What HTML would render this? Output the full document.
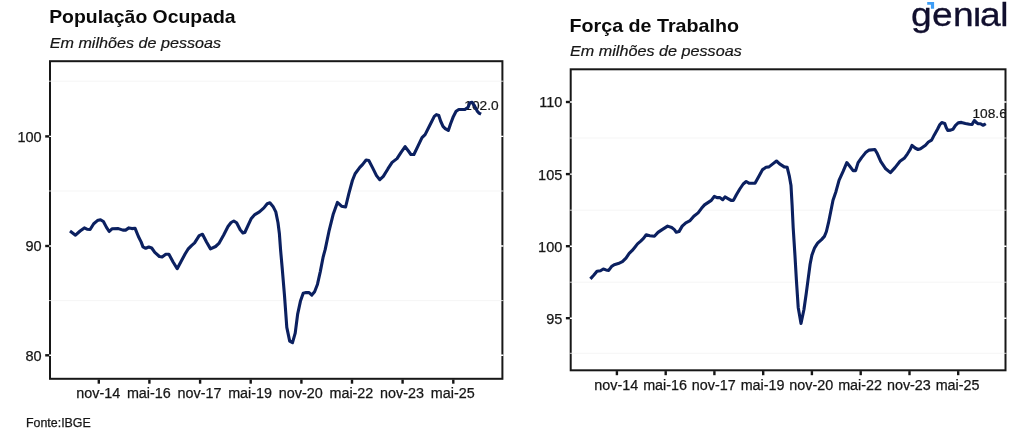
<!DOCTYPE html>
<html lang="pt-BR">
<head>
<meta charset="utf-8">
<title>População Ocupada e Força de Trabalho</title>
<style>
html,body{margin:0;padding:0;background:#fff;}
body{width:1024px;height:439px;overflow:hidden;font-family:"Liberation Sans",Arial,sans-serif;}
svg{display:block;}
svg text{font-family:"Liberation Sans",Arial,sans-serif;}
.ttl{font-weight:bold;font-size:18.5px;fill:#0a0a0a;}
.sub{font-style:italic;font-size:15.5px;fill:#161616;stroke:#161616;stroke-width:0.2px;}
.ax{font-size:14.5px;fill:#161616;stroke:#161616;stroke-width:0.25px;}
.axx{font-size:14.35px;}
.lab{font-size:13.7px;fill:#161616;stroke:#161616;stroke-width:0.2px;}
.src{font-size:12.4px;fill:#161616;stroke:#161616;stroke-width:0.25px;}
.logo{font-size:32.3px;fill:#110f2e;stroke:#110f2e;stroke-width:0.3px;}
</style>
</head>
<body>
<svg width="1024" height="439" viewBox="0 0 1024 439">
<rect width="1024" height="439" fill="#fff"/>
<text x="49.2" y="22.8" class="ttl" textLength="186.4" lengthAdjust="spacingAndGlyphs">População Ocupada</text>
<text x="49.7" y="47.8" class="sub" textLength="171.4" lengthAdjust="spacingAndGlyphs">Em milhões de pessoas</text>
<clipPath id="cl"><rect x="50.0" y="61.2" width="452.4" height="317.6"/></clipPath>
<rect x="50.0" y="61.2" width="452.4" height="317.6" fill="#fff" stroke="#171717" stroke-width="2.0"/>
<line x1="49.0" x2="503.4" y1="81.2" y2="81.2" stroke="#f3f3f3" stroke-width="0.8"/>
<line x1="49.0" x2="503.4" y1="191.0" y2="191.0" stroke="#f3f3f3" stroke-width="0.8"/>
<line x1="49.0" x2="503.4" y1="300.6" y2="300.6" stroke="#f3f3f3" stroke-width="0.8"/>
<line x1="49.0" x2="503.4" y1="136.4" y2="136.4" stroke="#fff" stroke-width="1.4"/>
<line x1="49.0" x2="503.4" y1="246.0" y2="246.0" stroke="#fff" stroke-width="1.4"/>
<line x1="49.0" x2="503.4" y1="355.3" y2="355.3" stroke="#fff" stroke-width="1.4"/>
<line x1="45.2" x2="49.2" y1="136.4" y2="136.4" stroke="#151515" stroke-width="2.4"/>
<text x="41.6" y="141.8" text-anchor="end" class="ax">100</text>
<line x1="45.2" x2="49.2" y1="246.0" y2="246.0" stroke="#151515" stroke-width="2.4"/>
<text x="41.6" y="251.4" text-anchor="end" class="ax">90</text>
<line x1="45.2" x2="49.2" y1="355.3" y2="355.3" stroke="#151515" stroke-width="2.4"/>
<text x="41.6" y="360.7" text-anchor="end" class="ax">80</text>
<line x1="98.8" x2="98.8" y1="379.6" y2="383.7" stroke="#151515" stroke-width="2.4"/>
<text x="98.2" y="398.3" text-anchor="middle" class="ax axx">nov-14</text>
<line x1="149.4" x2="149.4" y1="379.6" y2="383.7" stroke="#151515" stroke-width="2.4"/>
<text x="148.8" y="398.3" text-anchor="middle" class="ax axx">mai-16</text>
<line x1="200.1" x2="200.1" y1="379.6" y2="383.7" stroke="#151515" stroke-width="2.4"/>
<text x="199.5" y="398.3" text-anchor="middle" class="ax axx">nov-17</text>
<line x1="250.7" x2="250.7" y1="379.6" y2="383.7" stroke="#151515" stroke-width="2.4"/>
<text x="250.1" y="398.3" text-anchor="middle" class="ax axx">mai-19</text>
<line x1="301.4" x2="301.4" y1="379.6" y2="383.7" stroke="#151515" stroke-width="2.4"/>
<text x="300.8" y="398.3" text-anchor="middle" class="ax axx">nov-20</text>
<line x1="352.0" x2="352.0" y1="379.6" y2="383.7" stroke="#151515" stroke-width="2.4"/>
<text x="351.4" y="398.3" text-anchor="middle" class="ax axx">mai-22</text>
<line x1="402.6" x2="402.6" y1="379.6" y2="383.7" stroke="#151515" stroke-width="2.4"/>
<text x="402.0" y="398.3" text-anchor="middle" class="ax axx">nov-23</text>
<line x1="453.3" x2="453.3" y1="379.6" y2="383.7" stroke="#151515" stroke-width="2.4"/>
<text x="452.7" y="398.3" text-anchor="middle" class="ax axx">mai-25</text>
<g clip-path="url(#cl)"><text x="464.3" y="109.9" class="lab">102.0</text>
<path d="M70.0,231.0 L75.5,235.2 L80.1,231.0 L84.3,227.9 L87.0,229.2 L90.1,229.5 L93.7,223.7 L97.4,220.6 L100.5,219.7 L103.4,221.5 L106.5,227.4 L109.2,231.5 L112.0,228.8 L118.4,228.6 L122.9,230.1 L125.6,230.1 L128.9,227.9 L132.0,228.6 L135.1,228.3 L138.4,236.5 L141.1,241.9 L143.0,246.9 L145.7,248.3 L148.8,247.0 L151.7,248.0 L154.8,252.3 L159.4,256.5 L162.1,256.9 L165.8,254.2 L168.9,254.2 L173.1,262.0 L177.2,268.7 L181.3,261.1 L185.2,253.8 L188.0,249.2 L191.5,245.6 L194.6,242.9 L199.2,235.6 L202.5,234.3 L206.5,242.0 L210.5,248.9 L215.6,246.5 L218.9,243.4 L223.8,234.7 L228.0,226.5 L231.1,222.5 L233.8,221.0 L236.6,222.8 L240.2,229.8 L242.9,232.9 L244.8,232.5 L248.4,224.6 L251.1,218.8 L254.8,214.6 L259.4,211.9 L263.9,207.9 L267.2,203.7 L269.9,202.8 L273.0,206.4 L275.8,211.9 L278.0,222.8 L279.4,233.8 L280.6,250.2 L282.2,268.2 L284.5,295.6 L286.8,327.4 L289.7,341.1 L292.5,342.7 L295.2,333.1 L297.7,313.8 L300.4,301.3 L303.2,293.3 L306.1,292.6 L309.1,292.6 L311.8,295.1 L314.6,291.7 L317.5,284.2 L320.3,271.6 L323.2,256.8 L325.2,249.4 L329.2,230.3 L333.3,213.9 L337.4,202.4 L341.5,206.2 L345.6,207.0 L348.9,193.4 L352.4,180.5 L355.1,173.7 L359.8,167.4 L362.5,164.6 L366.1,160.0 L368.8,160.5 L372.4,167.4 L376.5,175.6 L379.8,179.7 L383.3,176.4 L388.0,168.7 L392.1,162.4 L397.0,158.6 L400.9,152.6 L405.1,146.6 L408.4,151.0 L410.9,154.5 L413.9,154.5 L417.7,146.6 L422.0,137.7 L425.1,134.6 L429.7,125.5 L434.3,116.4 L436.4,114.6 L438.8,115.5 L440.6,121.0 L443.0,126.4 L445.2,128.6 L448.3,130.4 L450.6,123.7 L453.4,116.4 L456.1,111.3 L458.8,109.5 L464.9,109.5 L468.0,107.3 L469.8,102.8 L472.1,102.4 L474.3,105.5 L477.1,110.9 L478.9,113.1 L481.1,114.2" fill="none" stroke="#0b2060" stroke-width="3.1" stroke-linejoin="round" stroke-linecap="butt"/></g>
<text x="26" y="427.4" class="src">Fonte:IBGE</text>
<text x="569.6" y="31.8" class="ttl" textLength="169.4" lengthAdjust="spacingAndGlyphs">Força de Trabalho</text>
<text x="570.0" y="56.2" class="sub" textLength="171.8" lengthAdjust="spacingAndGlyphs">Em milhões de pessoas</text>
<clipPath id="cr"><rect x="570.7" y="69.3" width="434.8" height="301.0"/></clipPath>
<rect x="570.7" y="69.3" width="434.8" height="301.0" fill="#fff" stroke="#171717" stroke-width="2.0"/>
<line x1="569.7" x2="1006.5" y1="138.0" y2="138.0" stroke="#f3f3f3" stroke-width="0.8"/>
<line x1="569.7" x2="1006.5" y1="210.2" y2="210.2" stroke="#f3f3f3" stroke-width="0.8"/>
<line x1="569.7" x2="1006.5" y1="282.2" y2="282.2" stroke="#f3f3f3" stroke-width="0.8"/>
<line x1="569.7" x2="1006.5" y1="353.3" y2="353.3" stroke="#f3f3f3" stroke-width="0.8"/>
<line x1="569.7" x2="1006.5" y1="102.0" y2="102.0" stroke="#fff" stroke-width="1.4"/>
<line x1="569.7" x2="1006.5" y1="174.1" y2="174.1" stroke="#fff" stroke-width="1.4"/>
<line x1="569.7" x2="1006.5" y1="246.2" y2="246.2" stroke="#fff" stroke-width="1.4"/>
<line x1="569.7" x2="1006.5" y1="318.2" y2="318.2" stroke="#fff" stroke-width="1.4"/>
<line x1="565.9" x2="569.9" y1="102.0" y2="102.0" stroke="#151515" stroke-width="2.4"/>
<text x="562.3" y="107.4" text-anchor="end" class="ax">110</text>
<line x1="565.9" x2="569.9" y1="174.1" y2="174.1" stroke="#151515" stroke-width="2.4"/>
<text x="562.3" y="179.5" text-anchor="end" class="ax">105</text>
<line x1="565.9" x2="569.9" y1="246.2" y2="246.2" stroke="#151515" stroke-width="2.4"/>
<text x="562.3" y="251.6" text-anchor="end" class="ax">100</text>
<line x1="565.9" x2="569.9" y1="318.2" y2="318.2" stroke="#151515" stroke-width="2.4"/>
<text x="562.3" y="323.6" text-anchor="end" class="ax">95</text>
<line x1="616.9" x2="616.9" y1="371.1" y2="375.2" stroke="#151515" stroke-width="2.4"/>
<text x="616.3" y="389.8" text-anchor="middle" class="ax axx">nov-14</text>
<line x1="665.7" x2="665.7" y1="371.1" y2="375.2" stroke="#151515" stroke-width="2.4"/>
<text x="665.1" y="389.8" text-anchor="middle" class="ax axx">mai-16</text>
<line x1="714.4" x2="714.4" y1="371.1" y2="375.2" stroke="#151515" stroke-width="2.4"/>
<text x="713.8" y="389.8" text-anchor="middle" class="ax axx">nov-17</text>
<line x1="763.2" x2="763.2" y1="371.1" y2="375.2" stroke="#151515" stroke-width="2.4"/>
<text x="762.6" y="389.8" text-anchor="middle" class="ax axx">mai-19</text>
<line x1="811.9" x2="811.9" y1="371.1" y2="375.2" stroke="#151515" stroke-width="2.4"/>
<text x="811.3" y="389.8" text-anchor="middle" class="ax axx">nov-20</text>
<line x1="860.7" x2="860.7" y1="371.1" y2="375.2" stroke="#151515" stroke-width="2.4"/>
<text x="860.1" y="389.8" text-anchor="middle" class="ax axx">mai-22</text>
<line x1="909.5" x2="909.5" y1="371.1" y2="375.2" stroke="#151515" stroke-width="2.4"/>
<text x="908.9" y="389.8" text-anchor="middle" class="ax axx">nov-23</text>
<line x1="958.2" x2="958.2" y1="371.1" y2="375.2" stroke="#151515" stroke-width="2.4"/>
<text x="957.6" y="389.8" text-anchor="middle" class="ax axx">mai-25</text>
<g clip-path="url(#cr)"><text x="972.5" y="117.6" class="lab">108.6</text>
<path d="M590.4,278.9 L593.7,275.3 L597.0,271.2 L600.5,270.7 L603.3,269.0 L606.0,269.9 L608.7,270.4 L611.5,266.6 L614.2,264.7 L618.3,263.6 L622.4,261.7 L626.0,258.1 L629.2,253.4 L632.0,250.7 L634.7,247.4 L637.5,243.9 L640.7,241.1 L643.5,238.4 L646.2,234.8 L649.8,235.7 L654.4,236.2 L658.0,232.4 L662.1,229.6 L667.6,226.1 L671.7,227.5 L674.4,229.6 L676.3,232.3 L679.0,231.6 L682.2,226.1 L685.8,222.8 L690.1,220.6 L693.8,216.3 L698.1,212.9 L701.5,208.3 L704.5,204.9 L707.9,202.6 L711.3,200.4 L714.3,196.3 L717.0,197.6 L720.0,197.6 L722.7,199.7 L725.0,196.9 L728.4,198.8 L731.1,200.4 L733.4,200.4 L736.4,194.7 L739.8,189.0 L743.2,184.0 L746.2,181.5 L749.3,183.3 L755.0,183.3 L758.5,176.9 L762.6,169.6 L766.0,167.3 L769.0,166.9 L772.8,163.9 L776.5,161.0 L779.6,163.9 L784.2,166.9 L787.2,167.3 L789.4,176.4 L791.0,185.6 L792.1,205.0 L793.2,228.0 L794.8,252.8 L796.4,280.1 L798.2,307.4 L801.0,323.4 L803.9,309.7 L806.2,293.8 L808.0,280.1 L810.1,264.2 L811.9,255.1 L814.6,247.8 L817.6,243.2 L821.5,239.6 L824.4,236.4 L826.4,231.5 L828.5,222.7 L833.0,200.2 L836.0,191.4 L839.1,180.1 L843.1,171.4 L846.8,162.6 L849.8,166.3 L853.1,170.6 L855.6,170.6 L858.1,162.6 L861.6,157.6 L865.6,152.6 L869.1,150.1 L874.9,149.5 L877.4,153.8 L880.7,161.3 L885.7,168.8 L890.4,172.6 L895.0,167.6 L900.0,161.3 L904.2,158.3 L907.5,153.8 L910.0,149.8 L912.0,145.3 L915.1,148.0 L918.0,149.5 L920.5,148.7 L925.5,145.2 L928.4,142.0 L931.6,140.1 L934.3,134.9 L937.5,129.3 L939.9,124.5 L941.8,122.6 L944.7,123.4 L946.3,127.7 L947.8,130.4 L950.7,130.1 L952.9,129.3 L955.5,125.3 L958.2,122.9 L961.4,122.4 L965.4,123.4 L969.4,124.2 L972.1,124.5 L973.4,122.1 L974.5,120.5 L976.2,122.4 L978.1,123.7 L980.5,123.7 L982.9,125.3 L984.5,124.5 L985.8,123.7" fill="none" stroke="#0b2060" stroke-width="3.1" stroke-linejoin="round" stroke-linecap="butt"/></g>
<text transform="translate(0,26) scale(1.15,1)" x="792.17 810.52 828.61 846.09 852.17 869.83" y="0" class="logo">genial</text>
<rect x="974" y="0" width="6" height="6.2" fill="#fff"/>
<path d="M927.2,1.9 h6.9 v6.9 h-3.2 v-4.1 h-3.7 z" fill="#3d9df6"/>
</svg>
</body>
</html>
